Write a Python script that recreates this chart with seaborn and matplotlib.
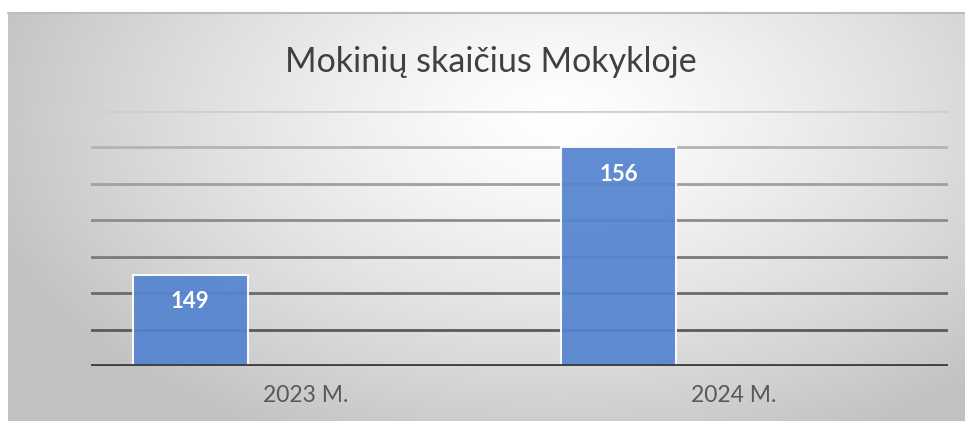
import numpy as np
import pandas as pd
import matplotlib
matplotlib.use("Agg")
import matplotlib.pyplot as plt
import seaborn as sns

categories = ["2023 M.", "2024 M."]
series_names = ["Mokiniai", "Serija 2", "Serija 3"]
values_s1 = [149, 156]
values_s2 = [np.nan, np.nan]
values_s3 = [np.nan, np.nan]
title = "Mokinių skaičius Mokykloje"
y_ticks = [144, 146, 148, 150, 152, 154, 156, 158]

rows = []
for s, vals in zip(series_names, [values_s1, values_s2, values_s3]):
    for c, v in zip(categories, vals):
        rows.append({"cat": c, "series": s, "value": v})
df = pd.DataFrame(rows)

sns.set_theme(style="white")
plt.rcParams["font.family"] = ["Lato", "DejaVu Sans"]

W, H = 965, 421
fig = plt.figure(figsize=(W / 100, H / 100), dpi=100)
fig.patch.set_facecolor("white")

# background radial gradient
x0, y0 = 8, 13
bg = fig.add_axes([x0 / W, 0, 1 - x0 / W, 1 - y0 / H], zorder=-10)
gx = np.linspace(x0, W, 400)
gy = np.linspace(y0, H, 200)
X, Y = np.meshgrid(gx, gy)
r = np.sqrt(((X - 560) / 600) ** 2 + ((Y - 120) / 360) ** 2)
r = np.clip(r, 0, 1)
val = 1.0 - 0.24 * r ** 1.3
img = np.dstack([val, val, val])
bg.imshow(img, aspect="auto", extent=[0, 1, 0, 1], origin="upper")
bg.set_axis_off()
bg.plot([0, 1], [1, 1], transform=bg.transAxes, color="#bcbcbc", linewidth=1.5, clip_on=False)

ax = fig.add_axes([91 / W, 1 - 366 / H, (948 - 91) / W, (366 - 111) / H])
ax.set_facecolor("none")
sns.barplot(data=df, x="cat", y="value", hue="series", hue_order=series_names,
            order=categories, palette=["#5584D0", "#ED7D31", "#A5A5A5"],
            saturation=1, width=0.805, dodge=True, legend=False, ax=ax, errorbar=None,
            alpha=0.93, edgecolor="white", linewidth=1.5, zorder=3)
ax.set_ylim(y_ticks[0], y_ticks[-1])
ax.set_yticks(y_ticks)
ax.set_yticklabels([])
ax.tick_params(axis="y", length=0)
ax.tick_params(axis="x", length=0, labelsize=16.5, colors="#595959", pad=14)
ax.set_xlabel("")
ax.set_ylabel("")
for s in ax.spines.values():
    s.set_visible(False)

grid_colors = ["#404040", "#5a5a5a", "#6a6a6a", "#7a7a7a", "#8c8c8c", "#a0a0a0", "#b4b4b4", "#cfcfcf"]
for t, c in zip(y_ticks, grid_colors):
    lw = 3.5 if t == y_ticks[0] else 2.0
    ax.axhline(t, color=c, linewidth=lw, zorder=1 if t != y_ticks[0] else 4)

if ax.containers:
    ax.bar_label(ax.containers[0], labels=[str(v) for v in values_s1],
                 padding=-27, color="white", fontsize=16, fontweight="bold")

fig.text(491 / W, 1 - 62 / H, title, ha="center", va="center", fontsize=24.5, color="#404040")

fig.savefig("out.png", dpi=100)
